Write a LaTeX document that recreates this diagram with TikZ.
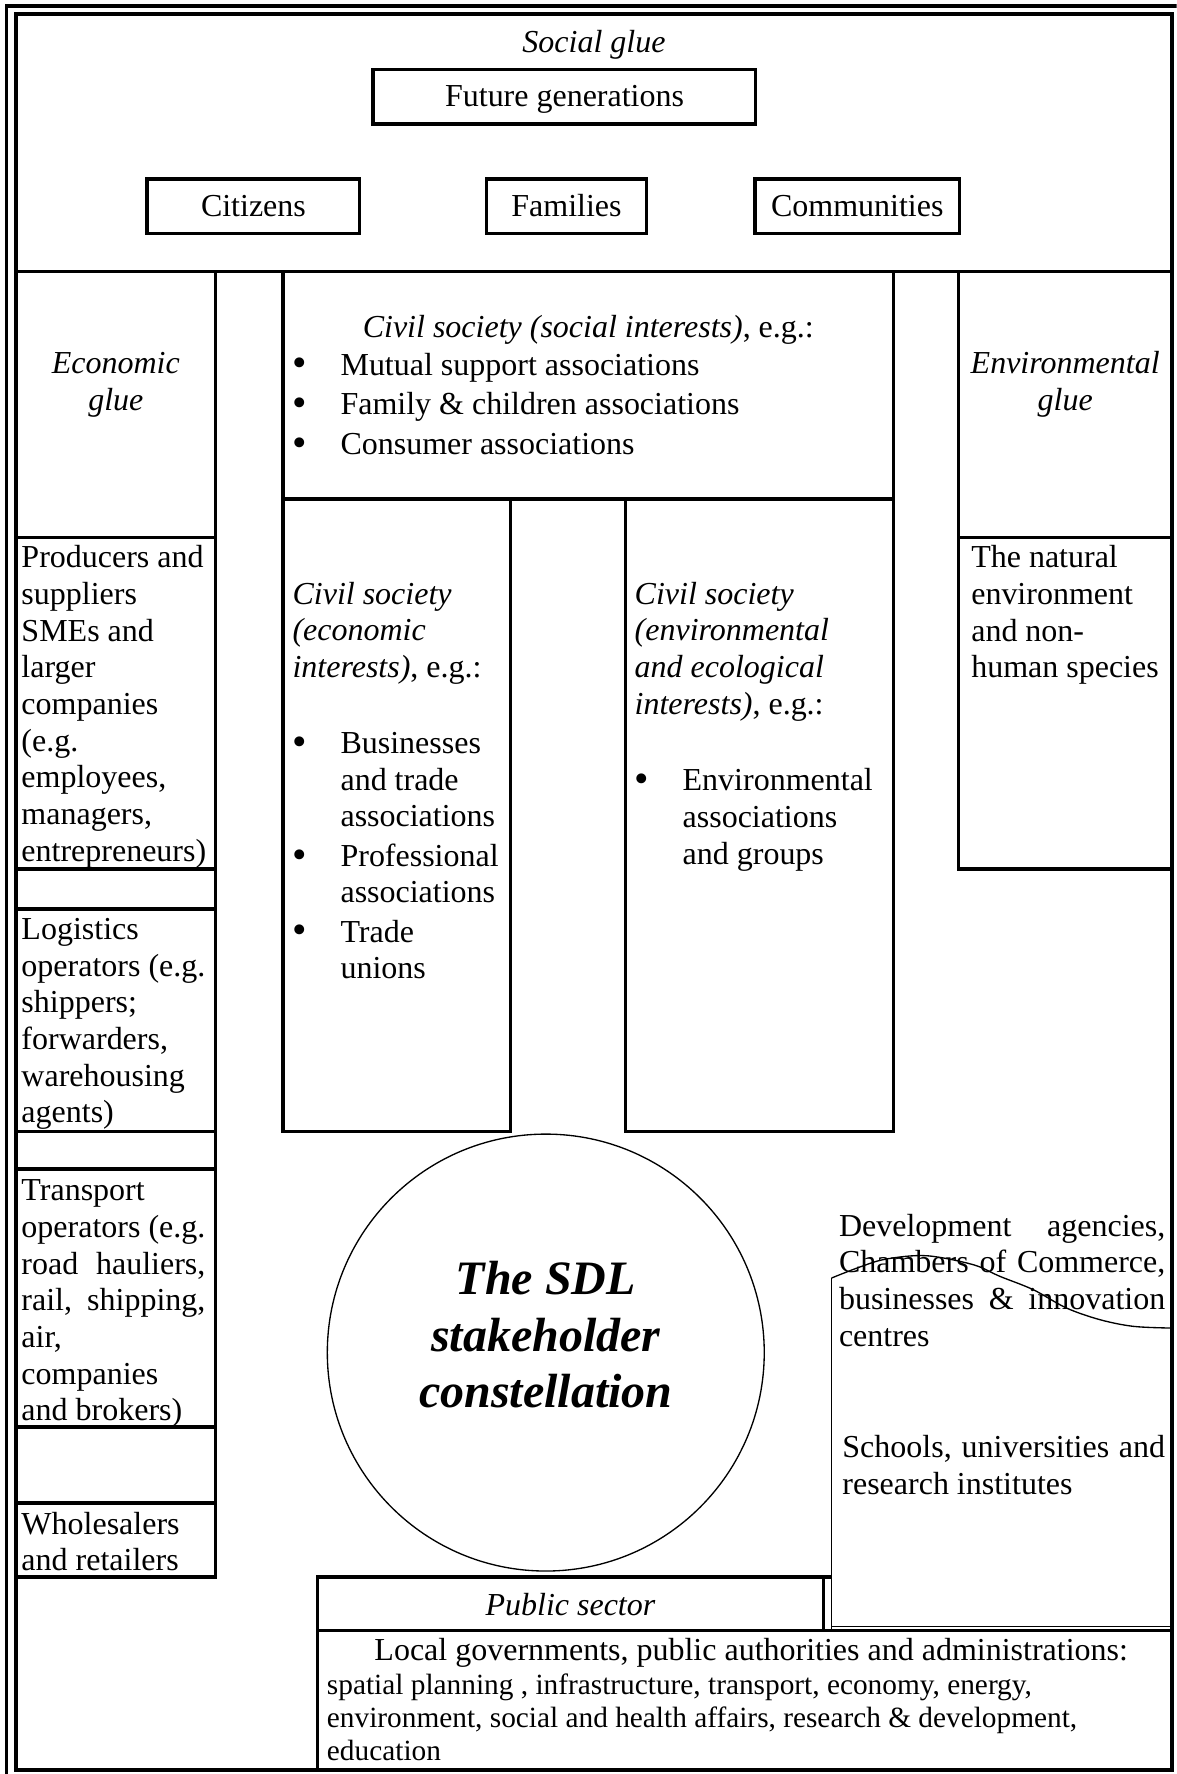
\documentclass[tikz,border=0pt]{standalone}
\usepackage{fontspec}
\setmainfont{Liberation Serif}

\newcommand\bodyfont{\fontsize{12}{13.75}\selectfont}
\newcommand\notefont{\fontsize{11}{12.3}\selectfont}
\newcommand\titlefont{\fontsize{18}{21.2}\selectfont\bfseries\itshape}
% normal (Times-like) interword glue inside ragged nodes
\newcommand\wordglue{\spaceskip=\fontdimen2\font plus \fontdimen3\font minus \fontdimen4\font\xspaceskip=0pt\relax}
% bullet list helpers: bullet at the margin, text hung at 18pt
\newcommand\bul{\makebox[18pt][l]{\raisebox{-0.7pt}{\fontsize{15.5}{0}\selectfont\textbullet}}}
\newcommand\hang{\hspace*{18pt}}
% a justified line of given width
\newcommand\jline[2]{\makebox[#1][s]{\wordglue#2}}
% \cell[style]{name}{x1}{y1}{x2}{y2}: a named rectangle between two corners
\newcommand\cell[6][]{%
  \node[cellbase,#1,minimum width={(#5-#3)*0.4244pt},minimum height={(#6-#4)*0.4244pt}]
    (#2) at ({(#3+#5)/2},{(#4+#6)/2}) {};}

\begin{document}
\begin{tikzpicture}[x=0.4244pt, y=-0.4244pt,
  frameline/.style={line width=1.4pt},
  cellbase/.style={draw, line width=1.25pt, inner sep=0pt, outer sep=0pt},
  cellline/.style={line width=1.25pt},
  hairline/.style={line width=0.5pt},
  lbl/.style={inner sep=0pt, outer sep=0pt, font=\bodyfont, anchor=base},
  blk/.style={inner sep=0pt, outer sep=0pt, font=\bodyfont, anchor=base west, align=left, text width=#1, execute at begin node=\wordglue},
  cblk/.style={inner sep=0pt, outer sep=0pt, font=\bodyfont, anchor=base, align=center, text width=#1, execute at begin node=\wordglue},
]
\useasboundingbox (0,0) rectangle (1040,1568);

% double outer frame
\begin{scope}
  \clip (0,0) rectangle (1040,1568);
  \draw[frameline] (5.7,5) rectangle (1045,1574);
\end{scope}
\cell[frameline]{frame}{14.4}{12.4}{1035.6}{1564.6}

% ---- social glue band ----
\draw[cellline] (14.4,240) -- (1035.6,240);
\node[lbl, font=\bodyfont\itshape] (socialglue) at (525,46.5) {Social glue};
\cell{fut}{329.6}{61.3}{668}{109.6}
\node[lbl] (futtxt) at (499,94) {Future generations};
\cell{cit}{130}{158.2}{318}{206.2}
\node[lbl] (cittxt) at (224,191.5) {Citizens};
\cell{fam}{430}{158.2}{571.4}{206.2}
\node[lbl] (famtxt) at (500.7,191.5) {Families};
\cell{com}{667.2}{158.2}{848.2}{206.2}
\node[lbl] (comtxt) at (757.7,191.5) {Communities};

% ---- economic column ----
\cell{econglue}{14.4}{240}{190.4}{474.8}
\node[cblk=74pt, font=\bodyfont\itshape] (econgluetxt) at (102.4,330) {Economic\\glue};
\cell{prod}{14.4}{474.8}{190.4}{768}
\node[blk=72pt] (prodtxt) at (19,502) {Producers and\\suppliers\\SMEs and\\larger\\companies\\(e.g.\\employees,\\managers,\\entrepreneurs)};
\cell{gapa}{14.4}{768}{190.4}{803.5}
\cell{logi}{14.4}{803.5}{190.4}{1000}
\node[blk=72pt] (logitxt) at (19,830.5) {Logistics\\operators (e.g.\\shippers;\\forwarders,\\warehousing\\agents)};
\cell{gapb}{14.4}{1000}{190.4}{1033.2}
\cell{trans}{14.4}{1033.2}{190.4}{1261.2}
\node[blk=72pt] (transtxt) at (19,1061.5) {Transport\\operators (e.g.\\\jline{69pt}{road hauliers,}\\\jline{69pt}{rail, shipping,}\\air,\\companies\\and brokers)};
\cell{gapc}{14.4}{1261.2}{190.4}{1328.4}
\cell{whole}{14.4}{1328.4}{190.4}{1393.8}
\node[blk=72pt] (wholetxt) at (19,1356) {Wholesalers\\and retailers};

% ---- civil society ----
\cell{civsoc}{250}{240}{789.5}{441}
\node[lbl] (civsochead) at (520,298.5) {\textit{Civil society (social interests)}, e.g.:};
\node[blk=220pt] (civsoclist) at (258.6,331.5) {\bul Mutual support associations\\[1.2pt]\bul Family \& children associations\\[1.2pt]\bul Consumer associations};
\cell{civeco}{250}{441}{451}{1000}
\node[blk=82pt] (civecohead) at (258.6,534) {\textit{Civil society}\\\textit{(economic}\\\textit{interests)}, e.g.:};
\node[blk=82pt] (civecolist) at (258.6,666) {\bul Businesses\\\hang and trade\\\hang associations\\[1pt]\bul Professional\\\hang associations\\[1pt]\bul Trade\\\hang unions};
\cell{civenv}{553}{441}{789.5}{1000}
\node[blk=96pt] (civenvhead) at (561,534) {\textit{Civil society}\\\textit{(environmental}\\\textit{and ecological}\\\textit{interests)}, e.g.:};
\node[blk=96pt] (civenvlist) at (561,699) {\bul Environmental\\\hang associations\\\hang and groups};

% ---- environmental column ----
\cell{envglue}{847.4}{240}{1035.6}{474.8}
\node[cblk=79pt, font=\bodyfont\itshape] (envgluetxt) at (941.5,330) {Environmental\\glue};
\cell{nature}{847.4}{474.8}{1035.6}{768}
\node[blk=75pt] (naturetxt) at (858.5,502) {The natural\\environment\\and non-\\human species};

% ---- the constellation ----
\node[draw, hairline, circle, minimum size=163.9pt, inner sep=0pt] (sdl) at (482.4,1195.5) {};
\node[inner sep=0pt, font=\titlefont, align=center] (sdltitle) at (482.4,1180) {The SDL\\stakeholder\\constellation};

% ---- agencies and schools ----
\node[blk=123pt] (devag) at (741.6,1092.5) {\jline{122.4pt}{Development agencies,}\\\jline{122.4pt}{Chambers of Commerce,}\\\jline{122.4pt}{businesses \& innovation}\\centres};
\node[blk=123pt] (schools) at (744.6,1288.5) {\jline{121pt}{Schools, universities and}\\research institutes};

% ---- public sector ----
\cell{pubsec}{280.7}{1394}{727.7}{1441}
\node[lbl, font=\bodyfont\itshape] (pubtxt) at (504.2,1428) {Public sector};
\cell{local}{280.7}{1441}{1035.6}{1564.6}
\node[lbl, anchor=base west] (localhead) at (331,1468) {Local governments, public authorities and administrations:};
\node[blk=330pt, font=\notefont] (localbody) at (289,1498) {spatial planning , infrastructure, transport, economy, energy,\\environment, social and health affairs, research \& development,\\education};

% hand-drawn outline round agencies and schools
\coordinate (wavestart) at (735,1129.6);
\coordinate (schoolsfoot) at (735,1437.4);
\draw[hairline] (wavestart) -- (wavestart |- local.north);
\draw[cellline] (pubsec.north east) -- (pubsec.north east -| wavestart);
\draw[hairline] (schoolsfoot) -- (schoolsfoot -| frame.east);
\draw[hairline] plot[smooth, tension=0.55] coordinates {(735,1129.6) (759.9,1119.9) (783.5,1112.8) (818.9,1109.9) (860.1,1117.8) (883.7,1128.1) (913.2,1139.9) (942.6,1156.1) (972.1,1166.4) (1001.5,1172.3) (1034,1173.8)};
\end{tikzpicture}
\end{document}
